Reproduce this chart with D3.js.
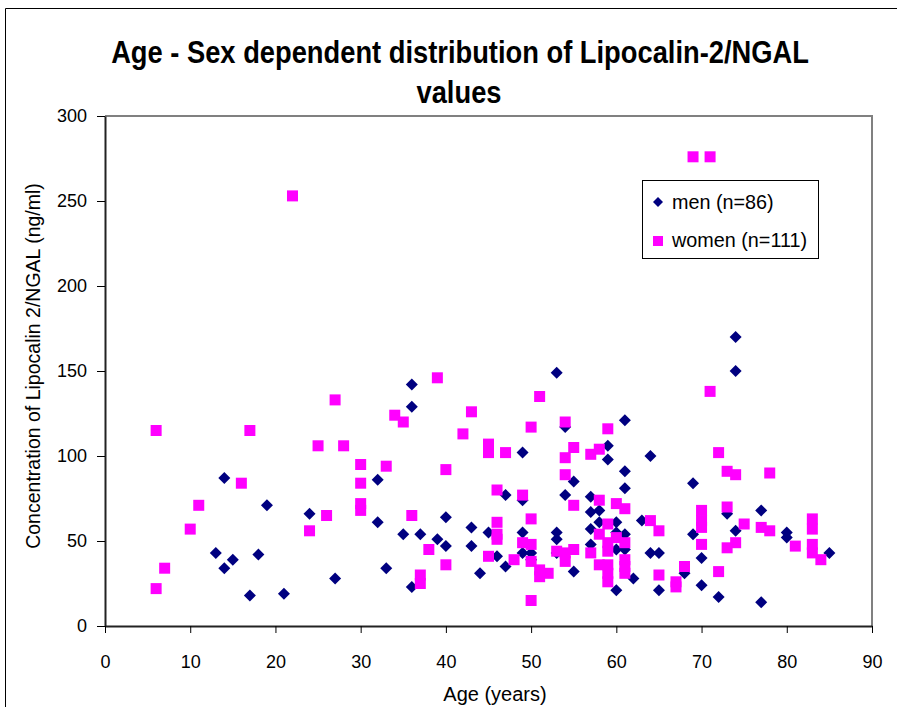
<!DOCTYPE html>
<html>
<head>
<meta charset="utf-8">
<script src="https://cdn.jsdelivr.net/npm/d3@7"></script>
<style>
  body { margin: 0; background: #fff; }
  svg text { font-family: "Liberation Sans", Arial, sans-serif; fill: #000; }
</style>
</head>
<body>
<div id="chart"></div>
<script>
// ages (years) and Lipocalin-2/NGAL values (ng/ml)
const menAge = [14, 19, 13, 15, 14, 18, 17, 21,
  36, 36, 32, 24, 32, 35, 37, 39, 40, 40, 43, 43, 45, 44, 33, 27, 36,
  53, 61, 49, 59, 59, 64, 61, 55, 61, 47, 49, 54, 57, 57, 58, 58, 60, 63, 57, 60,
  49, 53, 53, 61, 57, 60, 61, 64, 65, 49, 50, 53, 46, 47, 50, 55, 62, 60, 65, 54,
  74, 74, 69, 77, 73, 74, 69, 80, 80, 85, 70, 68, 70, 72, 77];
const menVal = [87, 71, 43, 39, 34, 42, 18, 19,
  142, 129, 86, 66, 61, 54, 54, 51, 64, 47, 58, 47, 55, 31, 34, 28, 23,
  149, 121, 102, 106, 98, 100, 91, 85, 81, 77, 74, 77, 76, 67, 68, 61, 61, 62, 57, 55,
  55, 55, 51, 54, 48, 45, 45, 43, 43, 43, 43, 43, 41, 35, 39, 32, 28, 21, 21, 117,
  170, 150, 84, 68, 66, 56, 54, 55, 52, 43, 40, 31, 24, 17, 14];

const womenAge = [6, 17, 16, 11, 10, 7, 6, 22,
  39, 27, 34, 35, 43, 42, 25, 28, 30, 33, 40, 30, 30, 30, 26, 24, 36, 38, 40, 37, 37,
  51, 50, 54, 59, 45, 45, 47, 55, 54, 58, 57, 54, 46, 49, 55, 58, 60, 61, 50, 46,
  59, 46, 46, 58, 60, 61, 59, 59, 49, 50, 53, 54, 55, 57, 45, 48, 50, 54, 58, 59,
  61, 61, 61, 51, 51, 52, 59, 59, 65, 64, 65, 50,
  71, 72, 73, 74, 78, 73, 70, 70, 70, 75, 77, 78, 83, 83, 83, 83, 84, 81, 70, 74,
  73, 72, 68, 67, 67, 69, 71];
const womenVal = [115, 115, 84, 71, 57, 34, 22, 253,
  146, 133, 124, 120, 126, 113, 106, 106, 95, 94, 92, 84, 72, 68, 65, 56, 65, 45, 36, 30, 25,
  135, 117, 120, 116, 107, 102, 102, 105, 99, 104, 101, 89, 80, 77, 71, 74, 72, 69, 63, 61,
  60, 54, 51, 54, 52, 49, 49, 44, 49, 48, 44, 43, 45, 43, 41, 39, 38, 38, 36, 36,
  39, 35, 31, 33, 29, 31, 31, 26, 56, 62, 30, 15,
  138, 102, 91, 89, 90, 70, 68, 62, 58, 60, 58, 56, 63, 57, 48, 43, 39, 47, 48, 49,
  46, 32, 35, 26, 23, 276, 276];

const xTicks = [0, 10, 20, 30, 40, 50, 60, 70, 80, 90];
const yTicks = [0, 50, 100, 150, 200, 250, 300];
const seriesNames = ["men (n=86)", "women (n=111)"];

const W = 897, H = 707;
const svg = d3.select('#chart').append('svg')
  .attr('width', W).attr('height', H);

// outer chart frame (only top and left edges are inside the picture)
svg.append('path')
  .attr('d', `M5.5,${H}V8.5H${W}`)
  .attr('fill', 'none').attr('stroke', '#000').attr('stroke-width', 1);

let x = d3.scaleLinear().domain([0, 90]).range([105, 872]);
let y = d3.scaleLinear().domain([0, 300]).range([626, 116]);

// plot area border (grey top + right)
svg.append('path')
  .attr('d', `M${x(0)},${y(300)}H${x(90)}V${y(0)}`)
  .attr('fill', 'none').attr('stroke', '#808080').attr('stroke-width', 2);

// axes
let yAxis = svg.append('g')
  .attr('transform', `translate(${x(0)},0)`)
  .call(d3.axisLeft(y).tickValues(yTicks).tickSize(8).tickSizeOuter(0).tickPadding(10));
let xAxis = svg.append('g')
  .attr('transform', `translate(0,${y(0)})`)
  .call(d3.axisBottom(x).tickValues(xTicks).tickSize(7).tickSizeOuter(0).tickPadding(22));

[yAxis, xAxis].forEach(a => {
  a.select('.domain').attr('stroke', '#222').attr('stroke-width', 2);
  a.selectAll('.tick line').attr('stroke', '#000');
  a.selectAll('.tick text')
    .style('font-family', '"Liberation Sans", Arial, sans-serif')
    .style('font-size', '18px').attr('fill', '#000');
});

// markers: men first, women drawn on top
const diamond = 'M0,-6L6,0L0,6L-6,0Z';
svg.append('g').selectAll('path')
  .data(d3.zip(menAge, menVal))
  .join('path')
  .attr('d', diamond)
  .attr('transform', d => `translate(${x(d[0])},${y(d[1])})`)
  .attr('fill', '#000080');

svg.append('g').selectAll('rect')
  .data(d3.zip(womenAge, womenVal))
  .join('rect')
  .attr('x', d => x(d[0]) - 5.5)
  .attr('y', d => y(d[1]) - 5.5)
  .attr('width', 11).attr('height', 11)
  .attr('fill', '#ff00ff');

// title: bold and a bit narrow, so squeeze it with a horizontal scale
let title = svg.append('g');
let t1 = title.append('text')
  .attr('text-anchor', 'middle')
  .style('font-size', '31px').style('font-weight', 'bold')
  .text('Age - Sex dependent distribution of Lipocalin-2/NGAL');
let sx = 698 / t1.node().getComputedTextLength();
t1.attr('transform', `translate(460,63) scale(${sx},1)`);
title.append('text')
  .attr('text-anchor', 'middle')
  .attr('transform', `translate(459,103) scale(${sx},1)`)
  .style('font-size', '31px').style('font-weight', 'bold')
  .text('values');

// axis titles
svg.append('text')
  .attr('x', 495).attr('y', 701).attr('text-anchor', 'middle')
  .style('font-size', '20px')
  .text('Age (years)');
svg.append('text')
  .attr('transform', 'translate(40,366) rotate(-90)')
  .attr('text-anchor', 'middle')
  .style('font-size', '19.5px')
  .text('Concentration of Lipocalin 2/NGAL (ng/ml)');

// legend
let lg = svg.append('g');
lg.append('rect')
  .attr('x', 642.5).attr('y', 180.5).attr('width', 176).attr('height', 78)
  .attr('fill', '#fff').attr('stroke', '#000').attr('stroke-width', 1);
lg.append('path').attr('d', 'M0,-5L5,0L0,5L-5,0Z')
  .attr('transform', 'translate(658,202)').attr('fill', '#000080');
lg.append('rect').attr('x', 653).attr('y', 236).attr('width', 10).attr('height', 10)
  .attr('fill', '#ff00ff');
lg.selectAll('text.leg')
  .data(seriesNames)
  .join('text')
  .attr('class', 'leg')
  .attr('x', 672)
  .attr('y', (d, i) => 209 + i * 38)
  .style('font-size', '19.8px')
  .text(d => d);
</script>
</body>
</html>
